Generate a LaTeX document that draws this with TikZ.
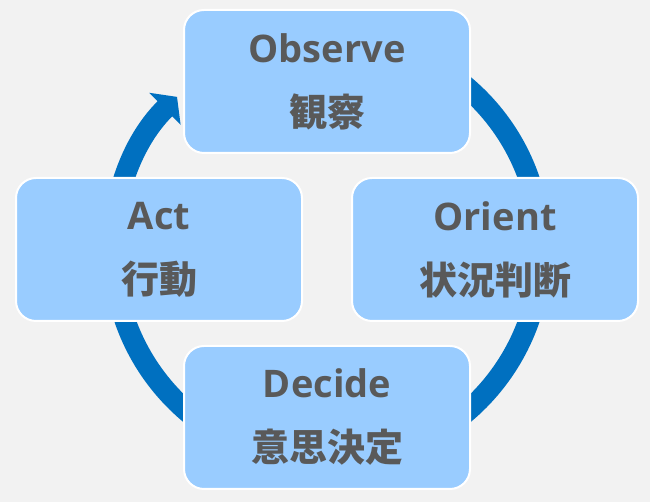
\documentclass[tikz,border=0pt]{standalone}
\usepackage{fontspec}
\usepackage{xcolor}
\usetikzlibrary{arrows.meta}
\newfontfamily\latinfont{Open Sans}
\newfontfamily\jpfont{Noto Sans CJK JP}
\definecolor{bgcol}{HTML}{F2F2F2}
\definecolor{boxblue}{HTML}{99CCFF}
\definecolor{ringblue}{HTML}{0070C0}
\definecolor{textgray}{HTML}{595959}

\begin{document}
\begin{tikzpicture}[x=0.75pt,y=0.75pt,
    phase/.style={draw=white,line width=1.5pt,fill=boxblue,rounded corners=15pt,
      minimum width=214.5pt,minimum height=107.25pt,align=center,text=textgray,
      font=\latinfont\bfseries\fontsize{28.5}{48}\selectfont},
    ring/.style={draw=ringblue,line width=15.75pt,-{Triangle[length=12.75pt,width=33pt]}}
  ]
    \fill[bgcol] (0,0) rectangle (650,502);
    \coordinate (c) at (327,252.5);
    \draw[ring] ([shift={(100:160.5pt)}]c) arc[start angle=100,end angle=-225.5,radius=160.5pt];
    \node[phase] (obs) at (327,420.5) {Observe\\{\jpfont 観察}};
    \node[phase] (ori) at (495,252.5) {Orient\\{\jpfont 状況判断}};
    \node[phase] (dec) at (327,84.5) {Decide\\{\jpfont 意思決定}};
    \node[phase] (act) at (159,252.5) {Act\\{\jpfont 行動}};
  \end{tikzpicture}
\end{document}
